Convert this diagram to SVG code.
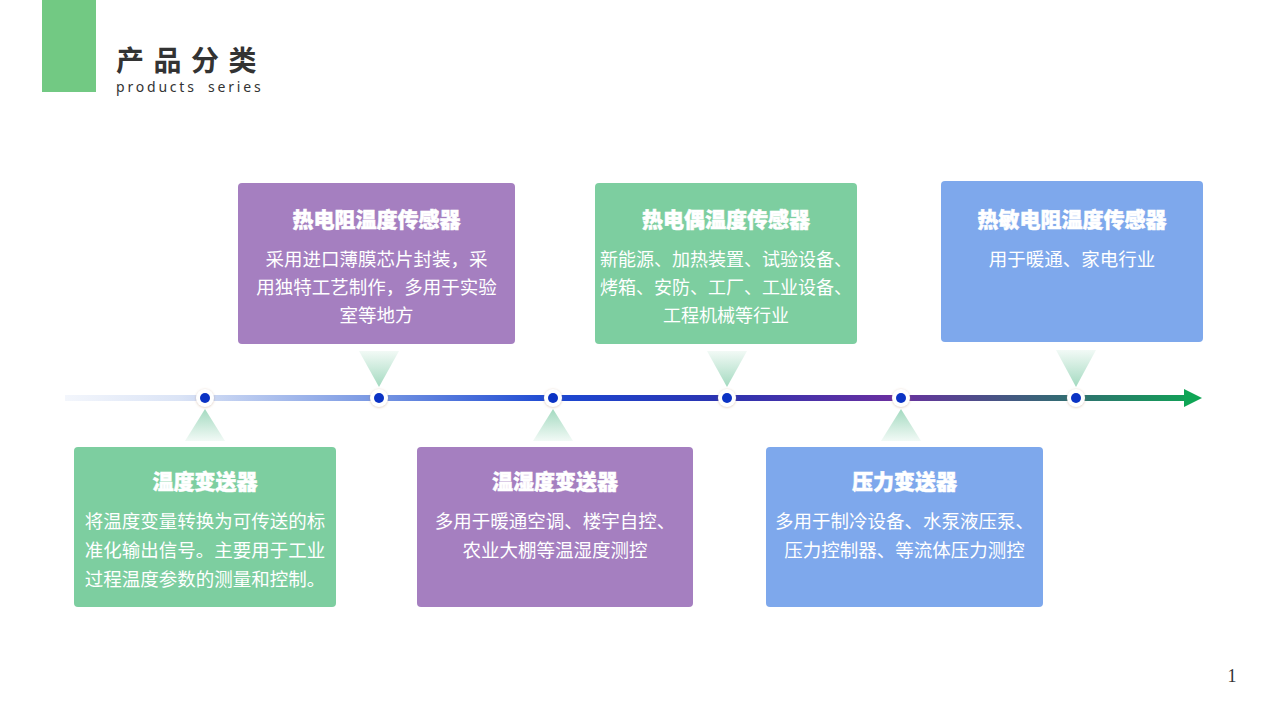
<svg xmlns="http://www.w3.org/2000/svg" width="1280" height="720" viewBox="0 0 1280 720">
<defs>
<style>
.t{font-family:"Noto Sans CJK SC","Noto Sans",sans-serif;fill:#fff;text-anchor:middle}
.h{font-size:21px;font-weight:900;stroke:#fff;stroke-width:0.5}
.b{font-size:18.5px}
.bs{font-size:18px}
.s{font-family:"Noto Sans","Liberation Sans",sans-serif;font-size:14px;fill:#333;letter-spacing:2.8px}
</style>
<linearGradient id="line" x1="65" y1="0" x2="1200" y2="0" gradientUnits="userSpaceOnUse">
<stop offset="0" stop-color="#f3f6fc"/>
<stop offset="0.1" stop-color="#dbe4f6"/>
<stop offset="0.28" stop-color="#7494e2"/>
<stop offset="0.43" stop-color="#1c48d2"/>
<stop offset="0.58" stop-color="#2b33b0"/>
<stop offset="0.73" stop-color="#6a2fa0"/>
<stop offset="0.89" stop-color="#2f7070"/>
<stop offset="1" stop-color="#0fa555"/>
</linearGradient>
<linearGradient id="triDown" x1="0" y1="0" x2="0" y2="1">
<stop offset="0" stop-color="#7ccaa5" stop-opacity="0.1"/>
<stop offset="1" stop-color="#7ccaa5" stop-opacity="0.7"/>
</linearGradient>
<linearGradient id="triUp" x1="0" y1="1" x2="0" y2="0">
<stop offset="0" stop-color="#7ccaa5" stop-opacity="0.1"/>
<stop offset="1" stop-color="#7ccaa5" stop-opacity="0.7"/>
</linearGradient>
<filter id="sh" x="-50%" y="-50%" width="200%" height="200%">
<feDropShadow dx="0" dy="0.5" stdDeviation="1.2" flood-color="#b08060" flood-opacity="0.45"/>
</filter>
</defs>
<rect width="1280" height="720" fill="#fff"/>
<g id="header">
<rect x="42" y="0" width="54" height="92" fill="#72c983"/>
<text x="116" y="71" font-family="'Noto Sans CJK SC',sans-serif" font-size="28" font-weight="bold" fill="#333" letter-spacing="9.5">产品分类</text>
<text class="s" x="116" y="92">products</text>
<text class="s" x="208" y="92">series</text>
</g>
<g id="connectors">
<rect x="65" y="395" width="1122" height="6" fill="url(#line)"/>
<polygon points="1184,389 1202,398 1184,407" fill="#0fa555"/>
<polygon points="359,351 399,351 379,387" fill="url(#triDown)"/>
<polygon points="707,351 747,351 727,387" fill="url(#triDown)"/>
<polygon points="1056,350 1096,350 1076,387" fill="url(#triDown)"/>
<polygon points="185,441 225,441 205,409" fill="url(#triUp)"/>
<polygon points="533,441 573,441 553,409" fill="url(#triUp)"/>
<polygon points="881,441 921,441 901,409" fill="url(#triUp)"/>
</g>
<g id="dots">
<g filter="url(#sh)">
<circle cx="205" cy="398" r="9" fill="#fff"/>
<circle cx="379" cy="398" r="9" fill="#fff"/>
<circle cx="553" cy="398" r="9" fill="#fff"/>
<circle cx="727" cy="398" r="9" fill="#fff"/>
<circle cx="901" cy="398" r="9" fill="#fff"/>
<circle cx="1076" cy="398" r="9" fill="#fff"/>
</g>
<g fill="#0b33c4">
<circle cx="205" cy="398" r="5"/>
<circle cx="379" cy="398" r="5"/>
<circle cx="553" cy="398" r="5"/>
<circle cx="727" cy="398" r="5"/>
<circle cx="901" cy="398" r="5"/>
<circle cx="1076" cy="398" r="5"/>
</g>
</g>
<g id="node-rtd">
<rect x="238" y="183" width="277" height="161" rx="4" fill="#a57fc0"/>
<text class="t h" x="376.5" y="227">热电阻温度传感器</text>
<text class="t b" x="376.5" y="266">采用进口薄膜芯片封装，采</text>
<text class="t b" x="376.5" y="294">用独特工艺制作，多用于实验</text>
<text class="t b" x="376.5" y="322">室等地方</text>
</g>
<g id="node-tc">
<rect x="595" y="183" width="262" height="161" rx="4" fill="#7dcea0"/>
<text class="t h" x="726" y="227">热电偶温度传感器</text>
<text class="t bs" x="726" y="266">新能源、加热装置、试验设备、</text>
<text class="t bs" x="726" y="294">烤箱、安防、工厂、工业设备、</text>
<text class="t bs" x="726" y="322">工程机械等行业</text>
</g>
<g id="node-ntc">
<rect x="941" y="181" width="262" height="161" rx="4" fill="#7ea8ec"/>
<text class="t h" x="1072" y="227">热敏电阻温度传感器</text>
<text class="t b" x="1072" y="266">用于暖通、家电行业</text>
</g>
<g id="node-tt">
<rect x="74" y="447" width="262" height="160" rx="4" fill="#7dcea0"/>
<text class="t h" x="205" y="489">温度变送器</text>
<text class="t b" x="205" y="528">将温度变量转换为可传送的标</text>
<text class="t b" x="205" y="557">准化输出信号。主要用于工业</text>
<text class="t b" x="205" y="586">过程温度参数的测量和控制。</text>
</g>
<g id="node-th">
<rect x="417" y="447" width="276" height="160" rx="4" fill="#a57fc0"/>
<text class="t h" x="555" y="489">温湿度变送器</text>
<text class="t b" x="555" y="528">多用于暖通空调、楼宇自控、</text>
<text class="t b" x="555" y="557">农业大棚等温湿度测控</text>
</g>
<g id="node-pt">
<rect x="766" y="447" width="277" height="160" rx="4" fill="#7ea8ec"/>
<text class="t h" x="904.5" y="489">压力变送器</text>
<text class="t b" x="904.5" y="528">多用于制冷设备、水泵液压泵、</text>
<text class="t b" x="904.5" y="557">压力控制器、等流体压力测控</text>
</g>
<text x="1232" y="682" font-family="'Liberation Serif',serif" font-size="18" fill="#333" text-anchor="middle">1</text>
</svg>
